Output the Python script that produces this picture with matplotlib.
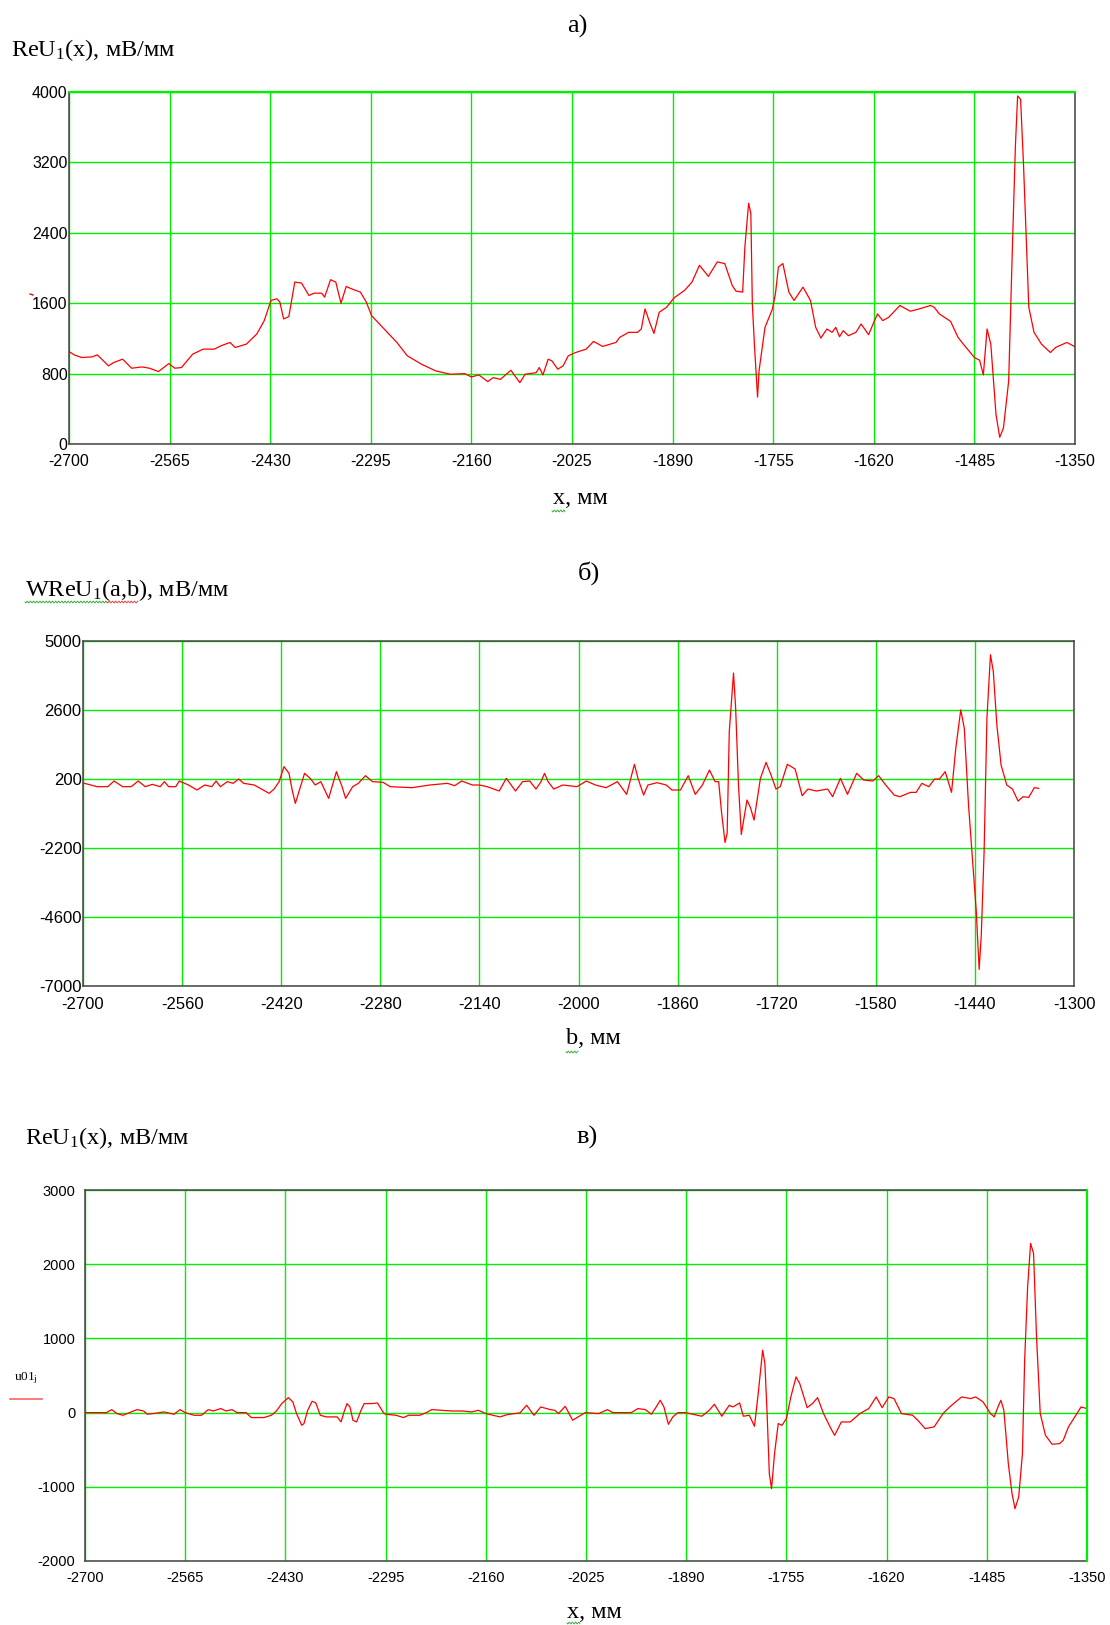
import matplotlib
matplotlib.use("Agg")
import matplotlib.pyplot as plt
from matplotlib.lines import Line2D
import numpy as np

plt.rcParams['font.family'] = ['Liberation Sans', 'DejaVu Sans']
plt.rcParams['mathtext.fontset'] = 'custom'
plt.rcParams['mathtext.rm'] = 'Liberation Serif'
plt.rcParams['mathtext.it'] = 'Liberation Serif:italic'

# ---------------- data: panel a ----------------
xa = [-2700, -2693, -2683, -2669, -2662, -2647, -2640, -2628, -2616, -2602, -2592, -2580,
      -2566, -2558, -2549, -2534, -2520, -2505, -2496, -2484, -2477, -2462, -2448, -2438,
      -2429, -2421, -2417, -2412, -2405, -2397, -2388, -2378, -2371, -2361, -2357, -2349,
      -2342, -2335, -2328, -2321, -2309, -2301, -2294, -2275, -2260, -2246, -2227, -2208,
      -2188, -2169, -2160, -2150, -2138, -2131, -2121, -2107, -2095, -2088, -2073,
      -2069, -2064, -2057, -2052, -2044, -2037, -2030, -2020, -2006, -1996, -1984, -1966,
      -1961, -1949, -1937, -1932, -1927, -1920, -1915, -1908, -1898, -1888, -1874, -1864,
      -1854, -1842, -1830, -1820, -1810, -1805, -1796, -1793, -1788, -1785, -1783, -1780,
      -1776, -1774, -1766, -1756, -1752, -1748, -1742, -1734, -1727, -1715, -1705, -1698,
      -1691, -1683, -1676, -1671, -1666, -1661, -1654, -1644, -1637, -1627, -1620, -1615,
      -1608, -1600, -1585, -1571, -1559, -1544, -1539, -1532, -1517, -1507, -1498, -1485,
      -1478, -1473, -1468, -1463, -1456, -1451, -1446, -1439, -1434, -1430, -1427, -1423,
      -1419, -1412, -1405, -1395, -1383, -1376, -1361, -1350]
ya = [1050, 1013, 983, 990, 1013, 888, 926, 964, 861, 876, 861, 823,
      914, 861, 869, 1021, 1078, 1078, 1116, 1154, 1097, 1135, 1250, 1402,
      1631, 1650, 1612, 1421, 1448, 1840, 1829, 1688, 1714, 1714, 1669, 1867,
      1840, 1600, 1790, 1764, 1726, 1612, 1459, 1288, 1154, 1002, 907, 831,
      792, 800, 762, 785, 709, 754, 735, 838, 697, 792, 811,
      869, 785, 964, 945, 850, 888, 1002, 1040, 1078, 1166, 1109, 1154,
      1212, 1269, 1269, 1307, 1535, 1364, 1257, 1497, 1554, 1661, 1745, 1840,
      2031, 1905, 2069, 2050, 1802, 1737, 1726, 2240, 2736, 2621, 1593, 1097,
      533, 831, 1326, 1535, 1707, 2012, 2050, 1726, 1631, 1783, 1631, 1326,
      1204, 1307, 1269, 1326, 1219, 1288, 1231, 1269, 1364, 1242, 1383, 1478,
      1402, 1440, 1574, 1509, 1535, 1574, 1554, 1478, 1394, 1212, 1116, 983,
      952, 785, 1307, 1135, 335, 76, 183, 716, 2240, 3383, 3955, 3917,
      3155, 1554, 1269, 1135, 1040, 1097, 1154, 1105]

# ---------------- data: panel b ----------------
xb = [-2698, -2680, -2665, -2656, -2644, -2632, -2622, -2612, -2602, -2591, -2585, -2579,
      -2569, -2564, -2551, -2539, -2528, -2518, -2512, -2506, -2496, -2488, -2480, -2473,
      -2458, -2448, -2437, -2430, -2423, -2416, -2409, -2404, -2400, -2395, -2387, -2379,
      -2372, -2364, -2353, -2342, -2334, -2329, -2319, -2311, -2301, -2291, -2276, -2266,
      -2235, -2210, -2185, -2175, -2165, -2150, -2140, -2129, -2112, -2102, -2089, -2079,
      -2069, -2060,
      -2053, -2048, -2043, -2035, -2022, -2002, -1989, -1976, -1961, -1945, -1932, -1921,
      -1916, -1908, -1902, -1889, -1876, -1868, -1856, -1845, -1835, -1825, -1815, -1807,
      -1802, -1798, -1793, -1790, -1787, -1781, -1778, -1774, -1770, -1762, -1757, -1752,
      -1743, -1735, -1728, -1721, -1715, -1705, -1694, -1684, -1676, -1664, -1648, -1641,
      -1630, -1620, -1607, -1597, -1584, -1576, -1566, -1554, -1546, -1531, -1523, -1515,
      -1505, -1497, -1490, -1482, -1473, -1467, -1460, -1455, -1449, -1442, -1438, -1434,
      -1431, -1427, -1423, -1418, -1414, -1409, -1403, -1395, -1387, -1379, -1372, -1364,
      -1356, -1350]
yb = [49, -67, -67, 130, -67, -67, 130, -67, 14, -67, 107, -67,
      -67, 130, -9, -183, -9, -67, 130, -67, 107, 49, 200, 49,
      -9, -149, -300, -149, 107, 630, 398, -242, -648, -242, 398, 223,
      -9, 107, -474, 456, -67, -474, -67, 49, 316, 107, 84, -67,
      -102, -9, 49, -32, 130, -9, -9, -67, -218, 223, -218, 107,
      130, -149,
      107, 398, 107, -149, -9, -67, 130, -9, -102, 107, -334, 711,
      223, -358, -9, 72, -9, -183, -183, 316, -334, -9, 514, 107,
      107, -939, -2008, -1694, 1850, 3884, 2663, -9, -1729, -532, -800, -1229,
      223, 781, 339, -149, -67, 711, 549, -381, -149, -218, -149, -416,
      223, -334, 398, 165, 130, 316, -9, -358, -416, -265, -265, 49,
      -67, 200, 200, 456, -265, 1269, 2605, 1966, -706, -3088, -4425, -6423,
      -5238, -2333, 2315, 4523, 3942, 2082, 688, -9, -149, -567, -416, -439,
      -102, -125]

# ---------------- data: panel c ----------------
xc = [-2700, -2671, -2664, -2657, -2649, -2640, -2630, -2621, -2616, -2608, -2594, -2580,
      -2572, -2565, -2553, -2543, -2534, -2527, -2517, -2510, -2502, -2495, -2483, -2476,
      -2459, -2449, -2442, -2435, -2426, -2420, -2415, -2408, -2405, -2400, -2394, -2389,
      -2383, -2375, -2360, -2355, -2351, -2347, -2343, -2339, -2334, -2329, -2324, -2314,
      -2306, -2298, -2295, -2281, -2271, -2264, -2249, -2240, -2233, -2220, -2206, -2192,
      -2179, -2170, -2160, -2141, -2131, -2114, -2105, -2095, -2086, -2073,
      -2067, -2062, -2053, -2043, -2026, -2008, -1996, -1989, -1964, -1955, -1945, -1937,
      -1931, -1925, -1920, -1914, -1908, -1901, -1891, -1881, -1869, -1859, -1852, -1842,
      -1832, -1827, -1818, -1813, -1805, -1798, -1793, -1787, -1784, -1781, -1778, -1775,
      -1771, -1766, -1761, -1755, -1749, -1742, -1737, -1727, -1720, -1713, -1705, -1695,
      -1690, -1681, -1669, -1656, -1644, -1634, -1626, -1617, -1610, -1600, -1585, -1578,
      -1568, -1556, -1544, -1534, -1519, -1507, -1500, -1490, -1480, -1475, -1470, -1466,
      -1462, -1456, -1451, -1447, -1442, -1437, -1434, -1430, -1426, -1422, -1418, -1413,
      -1406, -1397, -1387, -1382, -1375, -1365, -1358, -1350]
yc = [0, 0, 40, -13, -36, 0, 40, 22, -22, -13, 9, -22,
      40, 0, -36, -36, 40, 22, 54, 22, 40, 0, 0, -67,
      -67, -36, 22, 121, 202, 144, -13, -171, -148, 31, 153, 130,
      -36, -58, -58, -126, 9, 121, 76, -103, -126, 9, 121, 121,
      130, 0, -22, -36, -67, -36, -36, 0, 40, 31, 22, 22,
      9, 31, -13, -58, -27, -4, 99, -36, 76, 40,
      31, -13, 85, -103, 0, -13, 40, 0, 0, 54, 40, -22,
      67, 166, 76, -157, -58, 0, 0, -22, -49, 31, 112, -49,
      99, 76, 130, -49, -36, -184, 256, 841, 661, -13, -823, -1025,
      -553, -148, -171, -81, 211, 481, 391, 67, 121, 202, -13, -216,
      -306, -126, -126, -13, 54, 211, 67, 211, 189, -13, -36, -103,
      -216, -193, -13, 85, 211, 189, 211, 144, -13, -58, 76, 166,
      31, -688, -1093, -1295, -1137, -553, 706, 1695, 2280, 2145, 1020, -13,
      -306, -427, -418, -373, -193, -36, 76, 54]

# ---------------- ticks ----------------
xticks_a = [-2700, -2565, -2430, -2295, -2160, -2025, -1890, -1755, -1620, -1485, -1350]
yticks_a = [0, 800, 1600, 2400, 3200, 4000]
xticks_b = [-2700, -2560, -2420, -2280, -2140, -2000, -1860, -1720, -1580, -1440, -1300]
yticks_b = [-7000, -4600, -2200, 200, 2600, 5000]
xticks_c = [-2700, -2565, -2430, -2295, -2160, -2025, -1890, -1755, -1620, -1485, -1350]
yticks_c = [-2000, -1000, 0, 1000, 2000, 3000]

W, H = 1110, 1625
fig = plt.figure(figsize=(W / 100, H / 100), dpi=100)

GREEN = '#00ee00'
RED = '#ff0000'
SPINE = '#444444'
serif = 'Liberation Serif'


def make_axes(l, r, t, b):
    return fig.add_axes([l / W, 1 - b / H, (r - l) / W, (b - t) / H])


def style(ax, xt, yt, fs, xpad, ypad):
    ax.set_xlim(xt[0], xt[-1])
    ax.set_ylim(yt[0], yt[-1])
    ax.set_xticks(xt)
    ax.set_yticks(yt)
    ax.set_xticklabels([str(v) for v in xt], fontsize=fs)
    ax.set_yticklabels([str(v) for v in yt], fontsize=fs)
    ax.tick_params(length=0)
    ax.tick_params(axis='x', pad=xpad)
    ax.tick_params(axis='y', pad=ypad)
    ax.grid(True, color=GREEN, lw=1.0)
    ax.set_axisbelow(True)
    for s in ax.spines.values():
        s.set_color(SPINE)
        s.set_linewidth(1.1)
        s.set_zorder(3)


def squiggle(x0, x1, y, color):
    xs = np.linspace(x0, x1, int((x1 - x0) * 1.5) + 2)
    ys = y + 1.0 * np.sin((xs - x0) * 2.0)
    fig.add_artist(Line2D(xs / W, 1 - ys / H, color=color, lw=0.6))


# ---------- panel a ----------
axa = make_axes(69, 1075, 92, 444)
axa.plot(xa, ya, color=RED, lw=0.9, zorder=2)
style(axa, xticks_a, yticks_a, 11.5, 7, 1)
axa.axhline(4000, color=GREEN, lw=1.6, clip_on=False, zorder=4)
fig.text(577 / W, 1 - 26 / H, 'a)', fontsize=19, family=serif, ha='center', va='center')
fig.text(11 / W, 1 - 50 / H, 'ReU$_1$(x), мВ/мм', fontsize=17.5, family=serif, ha='left', va='center')
fig.text(580 / W, 1 - 498 / H, 'x, мм', fontsize=17.5, family=serif, ha='center', va='center')
squiggle(552, 565, 511, '#22aa22')
fig.add_artist(Line2D([30 / W, 33 / W], [1 - 294 / H, 1 - 295 / H], color=RED, lw=1.0))

# ---------- panel b ----------
axb = make_axes(83, 1074, 641, 986)
axb.plot(xb, yb, color=RED, lw=0.9, zorder=2)
style(axb, xticks_b, yticks_b, 12, 8, 1)
fig.text(589 / W, 1 - 573 / H, 'б)', fontsize=19, family=serif, ha='center', va='center')
fig.text(25 / W, 1 - 590 / H, 'WReU$_1$(a,b), мВ/мм', fontsize=17.5, family=serif, ha='left', va='center')
squiggle(25, 107, 602, '#22aa22')
squiggle(107, 138, 602, '#dd3333')
fig.text(593 / W, 1 - 1039 / H, 'b, мм', fontsize=17.5, family=serif, ha='center', va='center')
squiggle(566, 578, 1052, '#22aa22')

# ---------- panel c ----------
axc = make_axes(85, 1087, 1190, 1561)
axc.plot(xc, yc, color=RED, lw=0.9, zorder=2)
style(axc, xticks_c, yticks_c, 10.5, 7, 7)
axc.axvline(-1350, color=GREEN, lw=1.6, clip_on=False, zorder=4)
fig.text(587 / W, 1 - 1137 / H, 'в)', fontsize=19, family=serif, ha='center', va='center')
fig.text(25 / W, 1 - 1138 / H, 'ReU$_1$(x), мВ/мм', fontsize=17.5, family=serif, ha='left', va='center')
fig.text(594 / W, 1 - 1612 / H, 'x, мм', fontsize=17.5, family=serif, ha='center', va='center')
squiggle(567, 580, 1623, '#22aa22')
fig.text(14 / W, 1 - 1378 / H, 'u01$_\\mathrm{j}$', fontsize=9.5, family=serif, ha='left', va='center')
fig.add_artist(Line2D([10 / W, 42 / W], [1 - 1399 / H, 1 - 1399 / H], color='#ff6060', lw=1.2))

fig.savefig('out.png', dpi=100)
